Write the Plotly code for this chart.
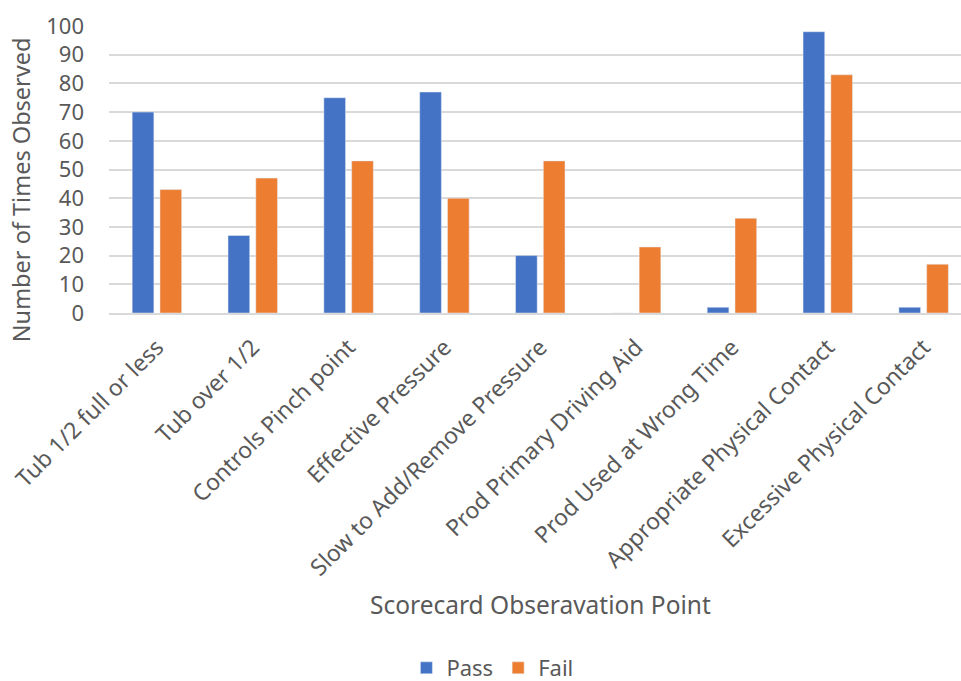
import plotly.graph_objects as go

categories = [
    "Tub 1/2 full or less",
    "Tub over 1/2",
    "Controls Pinch point",
    "Effective Pressure",
    "Slow to Add/Remove Pressure",
    "Prod Primary Driving Aid",
    "Prod Used at Wrong Time",
    "Appropriate Physical Contact",
    "Excessive Physical Contact",
]
pass_counts = [70, 27, 75, 77, 20, 0, 2, 98, 2]
fail_counts = [43, 47, 53, 40, 53, 23, 33, 83, 17]
y_ticks = [0, 10, 20, 30, 40, 50, 60, 70, 80, 90, 100]

BLUE = "#4472C4"
ORANGE = "#ED7D31"
TEXT = "#595959"
FONT = "Noto Sans"

fig = go.Figure()
fig.add_trace(go.Bar(name="Pass", x=categories, y=pass_counts, marker_color=BLUE))
fig.add_trace(go.Bar(name="Fail", x=categories, y=fail_counts, marker_color=ORANGE))

fig.update_layout(
    width=961,
    height=681,
    margin=dict(l=109, r=0, t=26, b=368, autoexpand=False),
    paper_bgcolor="white",
    plot_bgcolor="white",
    barmode="group",
    bargap=0.42,
    bargroupgap=0.22,
    font=dict(family=FONT, color=TEXT),
    showlegend=True,
    legend=dict(
        orientation="h",
        x=0.45,
        xanchor="center",
        y=-1.237,
        yanchor="middle",
        font=dict(size=22, color=TEXT),
        itemwidth=30,
        traceorder="normal",
    ),
)

fig.update_xaxes(
    range=[-0.5, 8.39],
    tickangle=-45,
    tickfont=dict(size=23, color=TEXT),
    showgrid=False,
    showline=True,
    linecolor="#d9d9d9",
    linewidth=1.5,
    ticks="",
    ticklabelstandoff=10,
    automargin=False,
)
fig.update_yaxes(
    range=[0, 100],
    tickvals=y_ticks,
    tickfont=dict(size=22, color=TEXT),
    showgrid=True,
    gridcolor="#d9d9d9",
    gridwidth=1.5,
    zeroline=False,
    showline=False,
    ticks="",
    ticklabelstandoff=24,
    automargin=False,
)

fig.add_annotation(
    text="Number of Times Observed",
    xref="paper", yref="paper",
    x=-0.103, y=0.4286,
    xanchor="center", yanchor="middle",
    textangle=-90,
    showarrow=False,
    font=dict(size=23.5, color=TEXT, family=FONT),
)
fig.add_annotation(
    text="Scorecard Obseravation Point",
    xref="paper", yref="paper",
    x=0.507, y=-1.017,
    xanchor="center", yanchor="middle",
    showarrow=False,
    font=dict(size=24.5, color=TEXT, family=FONT),
)

fig.write_html("out.html")
